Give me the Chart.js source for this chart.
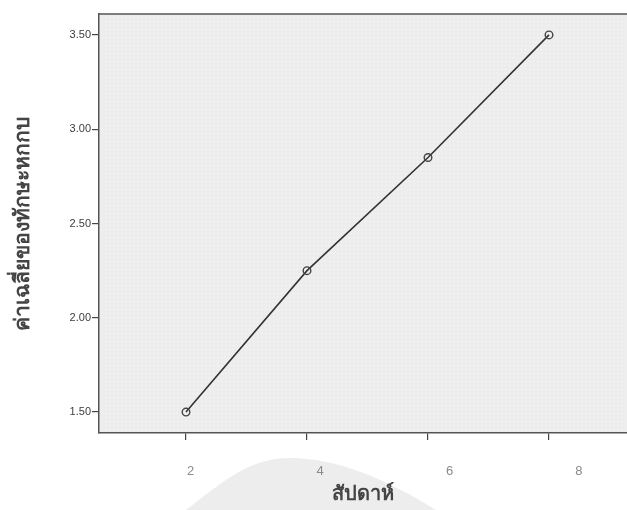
<!DOCTYPE html>
<html>
<head>
<meta charset="utf-8">
<script src="https://cdn.jsdelivr.net/npm/chart.js@4"></script>
<style>
  html, body { margin: 0; padding: 0; background: #ffffff; }
  #wrap { width: 627px; height: 510px; position: relative; }
</style>
</head>
<body>
<div id="wrap"><canvas id="weekChart"></canvas></div>
<script>
// Mean skill score per week (SPSS line chart)
const weeks = [2, 4, 6, 8];
const meanScores = [1.50, 2.25, 2.85, 3.50];
const yTicks = [1.50, 2.00, 2.50, 3.00, 3.50];
const xTicks = [2, 4, 6, 8];

const yTitle = 'ค่าเฉลี่ยของทักษะหกกบ';
const xTitle = 'สัปดาห์';

const FONT = "'Liberation Sans', 'DejaVu Sans', sans-serif";

// dotted grey plot background like SPSS
function makePattern(ctx) {
    const c = document.createElement('canvas');
    c.width = 4; c.height = 4;
    const p = c.getContext('2d');
    p.fillStyle = '#ededed';
    p.fillRect(0, 0, 4, 4);
    p.fillStyle = '#f8f8f8';
    p.fillRect(1, 1, 1, 1);
    return ctx.createPattern(c, 'repeat');
}

const plotBackground = {
    id: 'plotBackground',
    beforeDraw(chart) {
        const { ctx, chartArea: a, height } = chart;
        ctx.save();
        // faint watermark shape under the axis labels
        ctx.fillStyle = '#ededed';
        ctx.beginPath();
        ctx.moveTo(186, height);
        ctx.bezierCurveTo(225, 480, 250, 458, 290, 458);
        ctx.bezierCurveTo(335, 458, 385, 478, 436, height);
        ctx.closePath();
        ctx.fill();
        ctx.fillStyle = makePattern(ctx);
        ctx.fillRect(a.left, a.top, a.right - a.left, a.bottom - a.top);
        ctx.strokeStyle = '#555555';
        ctx.lineWidth = 1.5;
        ctx.beginPath();
        ctx.moveTo(a.left, a.top);
        ctx.lineTo(a.right, a.top);
        ctx.stroke();
        ctx.restore();
    }
};

function keepTicks(list) {
    return function(scale) {
        scale.ticks = list.map(v => ({ value: v }));
    };
}

const ctx = document.getElementById('weekChart').getContext('2d');

new Chart(ctx, {
    type: 'line',
    data: {
        datasets: [{
            data: weeks.map((w, i) => ({ x: w, y: meanScores[i] })),
            borderColor: '#333333',
            borderWidth: 1.6,
            pointRadius: 3.8,
            pointBorderWidth: 1.4,
            pointBorderColor: '#444444',
            pointBackgroundColor: 'rgba(0,0,0,0)',
            tension: 0
        }]
    },
    options: {
        responsive: true,
        maintainAspectRatio: false,
        animation: false,
        layout: { autoPadding: false, padding: { left: 0, right: 0, top: 14, bottom: 0 } },
        plugins: {
            legend: { display: false },
            tooltip: { enabled: false }
        },
        scales: {
            y: {
                type: 'linear',
                position: 'left',
                min: 1.389,
                max: 3.611,
                afterBuildTicks: keepTicks(yTicks),
                afterFit(scale) { scale.width = 99; scale.paddingTop = 0; scale.paddingBottom = 0; },
                border: { display: true, color: '#555555', width: 1.5 },
                grid: { drawOnChartArea: false, drawTicks: true, tickLength: 7, color: '#444444', lineWidth: 1.2 },
                ticks: {
                    padding: 1,
                    color: '#3d3d3d',
                    font: { family: FONT, size: 11 },
                    callback: v => Number(v).toFixed(2)
                },
                title: {
                    display: true,
                    text: yTitle,
                    color: '#444444',
                    padding: { top: 11, bottom: 0 },
                    font: { family: FONT, size: 21, weight: 'bold' }
                }
            },
            x: {
                type: 'linear',
                position: 'bottom',
                min: 0.562,
                max: 9.289,
                afterBuildTicks: keepTicks(xTicks),
                afterFit(scale) { scale.height = 8; scale.paddingLeft = 0; scale.paddingRight = 0; },
                border: { display: true, color: '#555555', width: 1.5 },
                grid: { drawOnChartArea: false, drawTicks: true, tickLength: 7, color: '#444444', lineWidth: 1.2 },
                ticks: { display: false }
            },
            xLabels: {
                type: 'linear',
                position: 'bottom',
                min: 0.583,
                max: 8.742,
                afterBuildTicks: keepTicks(xTicks),
                afterFit(scale) { scale.height = 69; scale.paddingLeft = 0; scale.paddingRight = 0; },
                border: { display: false },
                grid: { display: false, drawTicks: false },
                ticks: {
                    padding: 23,
                    color: '#8a8a8a',
                    font: { family: FONT, size: 13 }
                },
                title: {
                    display: true,
                    text: xTitle,
                    color: '#444444',
                    padding: { top: 0, bottom: 4 },
                    font: { family: FONT, size: 20, weight: 'bold' }
                }
            }
        }
    },
    plugins: [plotBackground]
});
</script>
</body>
</html>
